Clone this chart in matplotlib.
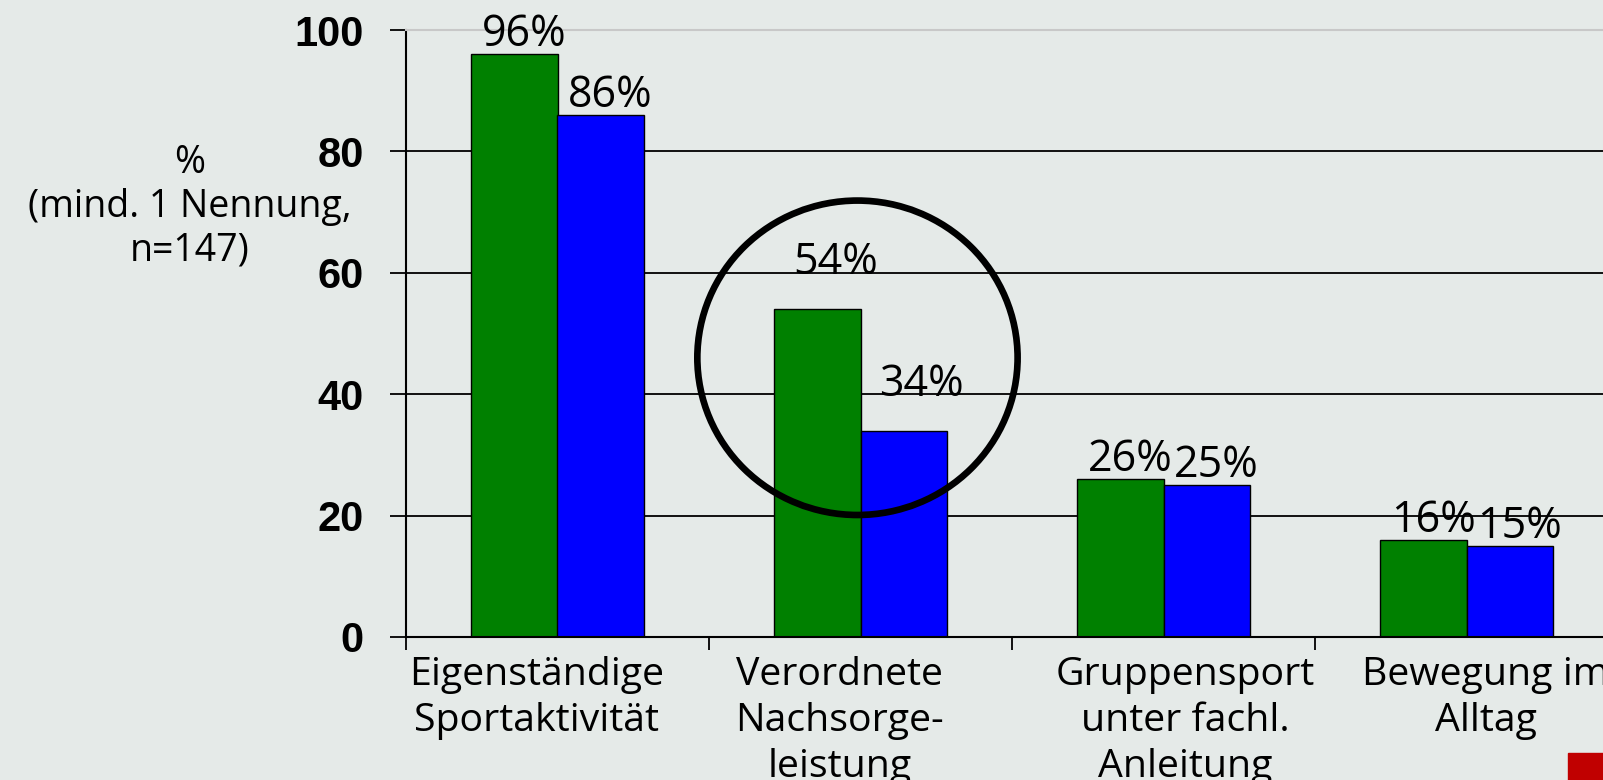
import matplotlib
matplotlib.use('Agg')
import matplotlib.pyplot as plt
from matplotlib.patches import Ellipse, Rectangle
from matplotlib.transforms import ScaledTranslation
import numpy as np

categories = ['Eigenständige\nSportaktivität', 'Verordnete\nNachsorge-\nleistung',
              'Gruppensport\nunter fachl.\nAnleitung', 'Bewegung im\nAlltag']
green_vals = [96, 54, 26, 16]
blue_vals = [86, 34, 25, 15]
y_ticks = [0, 20, 40, 60, 80, 100]
y_label_lines = ['%', '(mind. 1 Nennung,', 'n=147)']

BG = '#e5eae8'
GREEN = '#008000'
BLUE = '#0000ff'
TEXT_FONT = ['Open Sans', 'DejaVu Sans']

fig = plt.figure(figsize=(16.03, 7.80), dpi=100, facecolor=BG)
ax = fig.add_axes([406 / 1603, 143 / 780, 1212 / 1603, 607 / 780])
ax.set_facecolor(BG)

n = len(categories)
centers = np.arange(n) + 0.5
bw = 0.285

ax.set_xlim(0, n)
ax.set_ylim(0, 100)

for y in y_ticks[1:-1]:
    ax.axhline(y, color='black', lw=1.3, zorder=1)

ax.bar(centers - bw / 2, green_vals, bw, color=GREEN, edgecolor='black', lw=1, zorder=2)
ax.bar(centers + bw / 2, blue_vals, bw, color=BLUE, edgecolor='black', lw=1, zorder=2)

# labels sit a bit right of the bar centres; the circled group is lifted higher
for i, (gv, bv) in enumerate(zip(green_vals, blue_vals)):
    lift = 25 if i == 1 else 6
    dx = 13 if i == 1 else 7
    for xc, v in ((centers[i] - bw / 2, gv), (centers[i] + bw / 2, bv)):
        ax.annotate(f'{v}%', (xc, v), xytext=(dx, lift), textcoords='offset points',
                    ha='center', va='baseline', fontsize=31, family=TEXT_FONT,
                    zorder=4, annotation_clip=False)

# highlight circle around the second group
ax.add_patch(Ellipse((1.49, 46.0), 1.057, 51.8, fill=False, edgecolor='black',
                     lw=4.8, zorder=5, clip_on=False))

ax.set_yticks(y_ticks)
ax.set_yticklabels([str(t) for t in y_ticks], fontsize=30, fontweight='bold',
                   family=['Liberation Sans', 'DejaVu Sans'])
ax.tick_params(axis='y', direction='out', length=11.5, width=1.3, pad=19)

ax.set_xticks(np.arange(n + 1))
ax.set_xticklabels([])
ax.set_xticks(centers, minor=True)
ax.set_xticklabels(categories, minor=True, fontsize=28.3, family=TEXT_FONT,
                   linespacing=1.27)
ax.tick_params(axis='x', which='major', direction='out', length=9, width=1.3)
ax.tick_params(axis='x', which='minor', length=0, pad=14)

# the original labels are not exactly centred under their groups
label_shift = [-15, -15, 16, 14]
for lab, s in zip(ax.get_xticklabels(minor=True), label_shift):
    lab.set_transform(lab.get_transform() + ScaledTranslation(s / 72, 0, fig.dpi_scale_trans))

for s in ('left', 'bottom'):
    ax.spines[s].set_color('black')
    ax.spines[s].set_linewidth(1.5)
ax.spines['right'].set_visible(False)
ax.spines['top'].set_color('#c8c8c8')
ax.spines['top'].set_linewidth(1.5)

for k, line in enumerate(y_label_lines):
    fig.text(190 / 1603, 1 - (163 + 44 * k) / 780, line, ha='center', va='center',
             fontsize=27, family=TEXT_FONT)

fig.patches.append(Rectangle((1568 / 1603, 0), 35 / 1603, 27 / 780,
                             transform=fig.transFigure, color='#c00000'))

fig.savefig('out.png', dpi=100, facecolor=BG)
